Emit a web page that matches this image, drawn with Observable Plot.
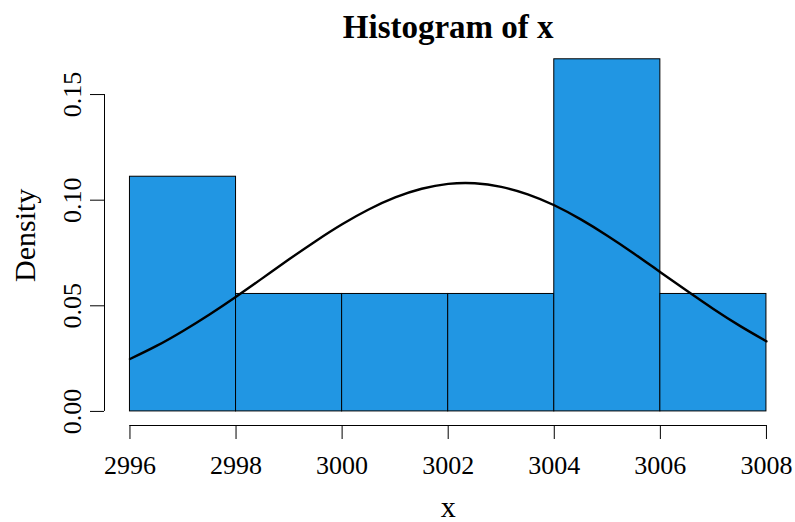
<!DOCTYPE html>
<html>
<head>
<meta charset="utf-8">
<script src="https://cdn.jsdelivr.net/npm/d3@7"></script>
<script src="https://cdn.jsdelivr.net/npm/@observablehq/plot@0.6"></script>
<style>
  html, body { margin: 0; padding: 0; background: #fff; }
  #chart svg { display: block; }
</style>
</head>
<body>
<div id="chart"></div>
<script>
// Histogram bins (breaks every 2) and densities
const binStart = [2996, 2998, 3000, 3002, 3004, 3006];
const binEnd   = [2998, 3000, 3002, 3004, 3006, 3008];
const density  = [0.1111, 0.0556, 0.0556, 0.0556, 0.1667, 0.0556];

// Density curve
const curveX = [2996, 2996.5, 2997, 2997.5, 2998, 2998.5, 2999, 2999.5, 3000, 3000.5,
                3001, 3001.5, 3002, 3002.5, 3003, 3003.5, 3004, 3004.5, 3005, 3005.5,
                3006, 3006.5, 3007, 3007.5, 3008];
const curveY = [0.0248, 0.0310, 0.0381, 0.0459, 0.0543, 0.0631, 0.0720, 0.0806, 0.0886, 0.0956,
                0.1013, 0.1054, 0.1077, 0.1080, 0.1063, 0.1028, 0.0976, 0.0909, 0.0832, 0.0748,
                0.0659, 0.0571, 0.0485, 0.0405, 0.0332];

// Tick labels
const xTicks = [2996, 2998, 3000, 3002, 3004, 3006, 3008];
const yTicks = [0, 0.05, 0.10, 0.15];

const titleText = "Histogram of x";
const xLabel = "x";
const yLabel = "Density";

const bins = binStart.map((s, i) => ({x1: s, x2: binEnd[i], d: density[i]}));
const curve = curveX.map((x, i) => ({x, y: curveY[i]}));

// R-style 4% padding around data range
const xMin = d3.min(binStart), xMax = d3.max(binEnd);
const yMax = d3.max(density);
const xPad = (xMax - xMin) * 0.04, yPad = yMax * 0.04;
const xDom = [xMin - xPad, xMax + xPad];
const yDom = [-yPad, yMax + yPad];

const chart = Plot.plot({
  width: 795,
  height: 522,
  marginLeft: 104,
  marginRight: 3.6,
  marginTop: 44.7,
  marginBottom: 97,
  style: {fontFamily: "'Liberation Serif', serif", fontSize: "26px", color: "#000", background: "#fff"},
  x: {domain: xDom, axis: null},
  y: {domain: yDom, axis: null},
  marks: [
    Plot.rect(bins, {x1: "x1", x2: "x2", y1: 0, y2: "d", fill: "#2196E3", stroke: "#000", strokeWidth: 1}),
    Plot.line(curve, {x: "x", y: "y", stroke: "#000", strokeWidth: 2.4, curve: "natural"}),
    // x axis
    Plot.ruleY([yDom[0]], {x1: xMin, x2: xMax, stroke: "#000", strokeWidth: 1}),
    Plot.axisX(xTicks, {anchor: "bottom", tickSize: 14, tickPadding: 16, fontSize: 26,
      tickFormat: d => String(d), label: null, stroke: "#000"}),
    // y axis
    Plot.ruleX([xDom[0]], {y1: 0, y2: d3.max(yTicks), stroke: "#000", strokeWidth: 1}),
    Plot.axisY(yTicks, {anchor: "left", tickSize: 14, tickFormat: () => "", label: null, stroke: "#000"}),
    Plot.text(yTicks, {x: xDom[0], y: d => d, text: d => d3.format(".2f")(d), rotate: -90,
      dx: -31.5, fontSize: 26, textAnchor: "middle", lineAnchor: "middle", fill: "#000"}),
    // labels
    Plot.text([titleText], {frameAnchor: "top", dy: -17.7, fontSize: 33, fontWeight: "bold",
      textAnchor: "middle", lineAnchor: "middle", fill: "#000"}),
    Plot.text([xLabel], {frameAnchor: "bottom", dy: 82, fontSize: 30, textAnchor: "middle",
      lineAnchor: "middle", fill: "#000"}),
    Plot.text([yLabel], {frameAnchor: "left", dx: -79, rotate: -90, fontSize: 30,
      textAnchor: "middle", lineAnchor: "middle", fill: "#000"})
  ]
});
document.getElementById("chart").appendChild(chart);
</script>
</body>
</html>
